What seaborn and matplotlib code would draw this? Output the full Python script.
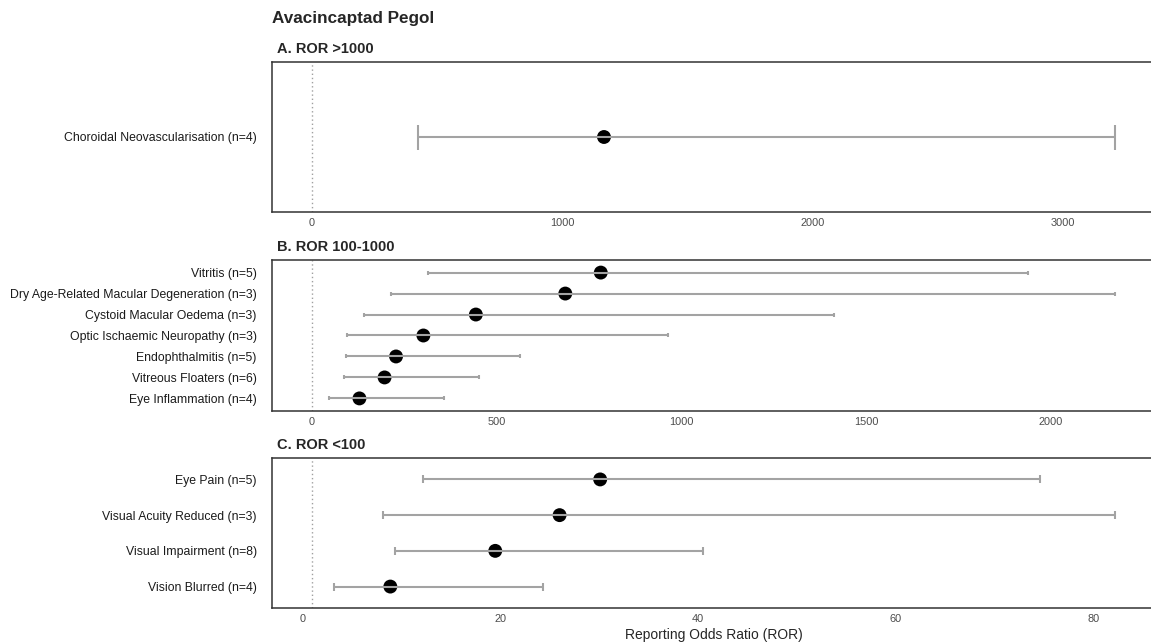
import numpy as np
import pandas as pd
import seaborn as sns
import matplotlib
matplotlib.use("Agg")
import matplotlib.pyplot as plt
from matplotlib.ticker import MultipleLocator

# ROR with 95% CI (top row first)
a_terms = ["Choroidal Neovascularisation (n=4)"]
a_ror = [1167]
a_lo = [423]
a_hi = [3208]

b_terms = ["Vitritis (n=5)", "Dry Age-Related Macular Degeneration (n=3)",
           "Cystoid Macular Oedema (n=3)", "Optic Ischaemic Neuropathy (n=3)",
           "Endophthalmitis (n=5)", "Vitreous Floaters (n=6)", "Eye Inflammation (n=4)"]
b_ror = [782, 686, 444, 302, 228, 197, 129]
b_lo = [314, 214, 140, 95, 93, 86, 46]
b_hi = [1938, 2173, 1413, 963, 564, 453, 357]

c_terms = ["Eye Pain (n=5)", "Visual Acuity Reduced (n=3)",
           "Visual Impairment (n=8)", "Vision Blurred (n=4)"]
c_ror = [30.1, 26.0, 19.5, 8.9]
c_lo = [12.2, 8.2, 9.4, 3.2]
c_hi = [74.5, 82.1, 40.5, 24.3]

panel_titles = ["A. ROR >1000", "B. ROR 100-1000", "C. ROR <100"]
tick_steps = [1000, 500, 20]

sns.set_theme(style="white")
plt.rcParams["font.family"] = ["Liberation Sans", "DejaVu Sans"]

W, H = 1151, 644
fig = plt.figure(figsize=(W / 100, H / 100), dpi=100)

# panel boxes in pixels: (top, bottom)
boxes = [(62, 212), (260, 411), (458, 608)]
left_px, right_px = 272, 1155
caps = [9, 1.5, 2.6]

panels = [(a_terms, a_ror, a_lo, a_hi), (b_terms, b_ror, b_lo, b_hi), (c_terms, c_ror, c_lo, c_hi)]

for k, (terms, ror, lo, hi) in enumerate(panels):
    top, bot = boxes[k]
    ax = fig.add_axes([left_px / W, 1 - bot / H, (right_px - left_px) / W, (bot - top) / H])
    n = len(terms)
    df = pd.DataFrame({"term": terms, "ror": ror, "lo": lo, "hi": hi})
    df["pos"] = np.arange(n)[::-1]

    ax.axvline(1, color="#a0a0a0", linestyle=(0, (1, 2)), linewidth=1.0, zorder=1)
    sns.scatterplot(data=df, x="ror", y="pos", ax=ax, color="black", s=100,
                    edgecolor="none", zorder=2, legend=False)
    ax.errorbar(df["ror"], df["pos"], xerr=[df["ror"] - df["lo"], df["hi"] - df["ror"]],
                fmt="none", ecolor="#a3a3a3", elinewidth=1.5, capsize=caps[k],
                capthick=1.5, zorder=3)

    span = max(hi) - 1
    ax.set_xlim(1 - 0.05 * span, max(hi) + 0.05 * span)
    ax.set_ylim(-0.6, n - 0.4)
    ax.xaxis.set_major_locator(MultipleLocator(tick_steps[k]))
    ax.set_yticks(df["pos"])
    ax.set_yticklabels(df["term"], fontsize=8.8, color="#1a1a1a")
    ax.tick_params(axis="x", labelsize=7.9, labelcolor="#4d4d4d", length=0, pad=4)
    ax.tick_params(axis="y", length=0, pad=11)
    ax.set_xlabel("")
    ax.set_ylabel("")
    for sp in ax.spines.values():
        sp.set_color("#333333")
        sp.set_linewidth(1.1)
    fig.text(277 / W, 1 - (top - 13) / H, panel_titles[k], fontsize=10.5,
             fontweight="bold", va="center", ha="left")

fig.text(272 / W, 1 - 18 / H, "Avacincaptad Pegol", fontsize=12.3, fontweight="bold",
         va="center", ha="left")
fig.text(714 / W, 1 - 635 / H, "Reporting Odds Ratio (ROR)", fontsize=10,
         va="center", ha="center")

fig.savefig("out.png", dpi=100)
